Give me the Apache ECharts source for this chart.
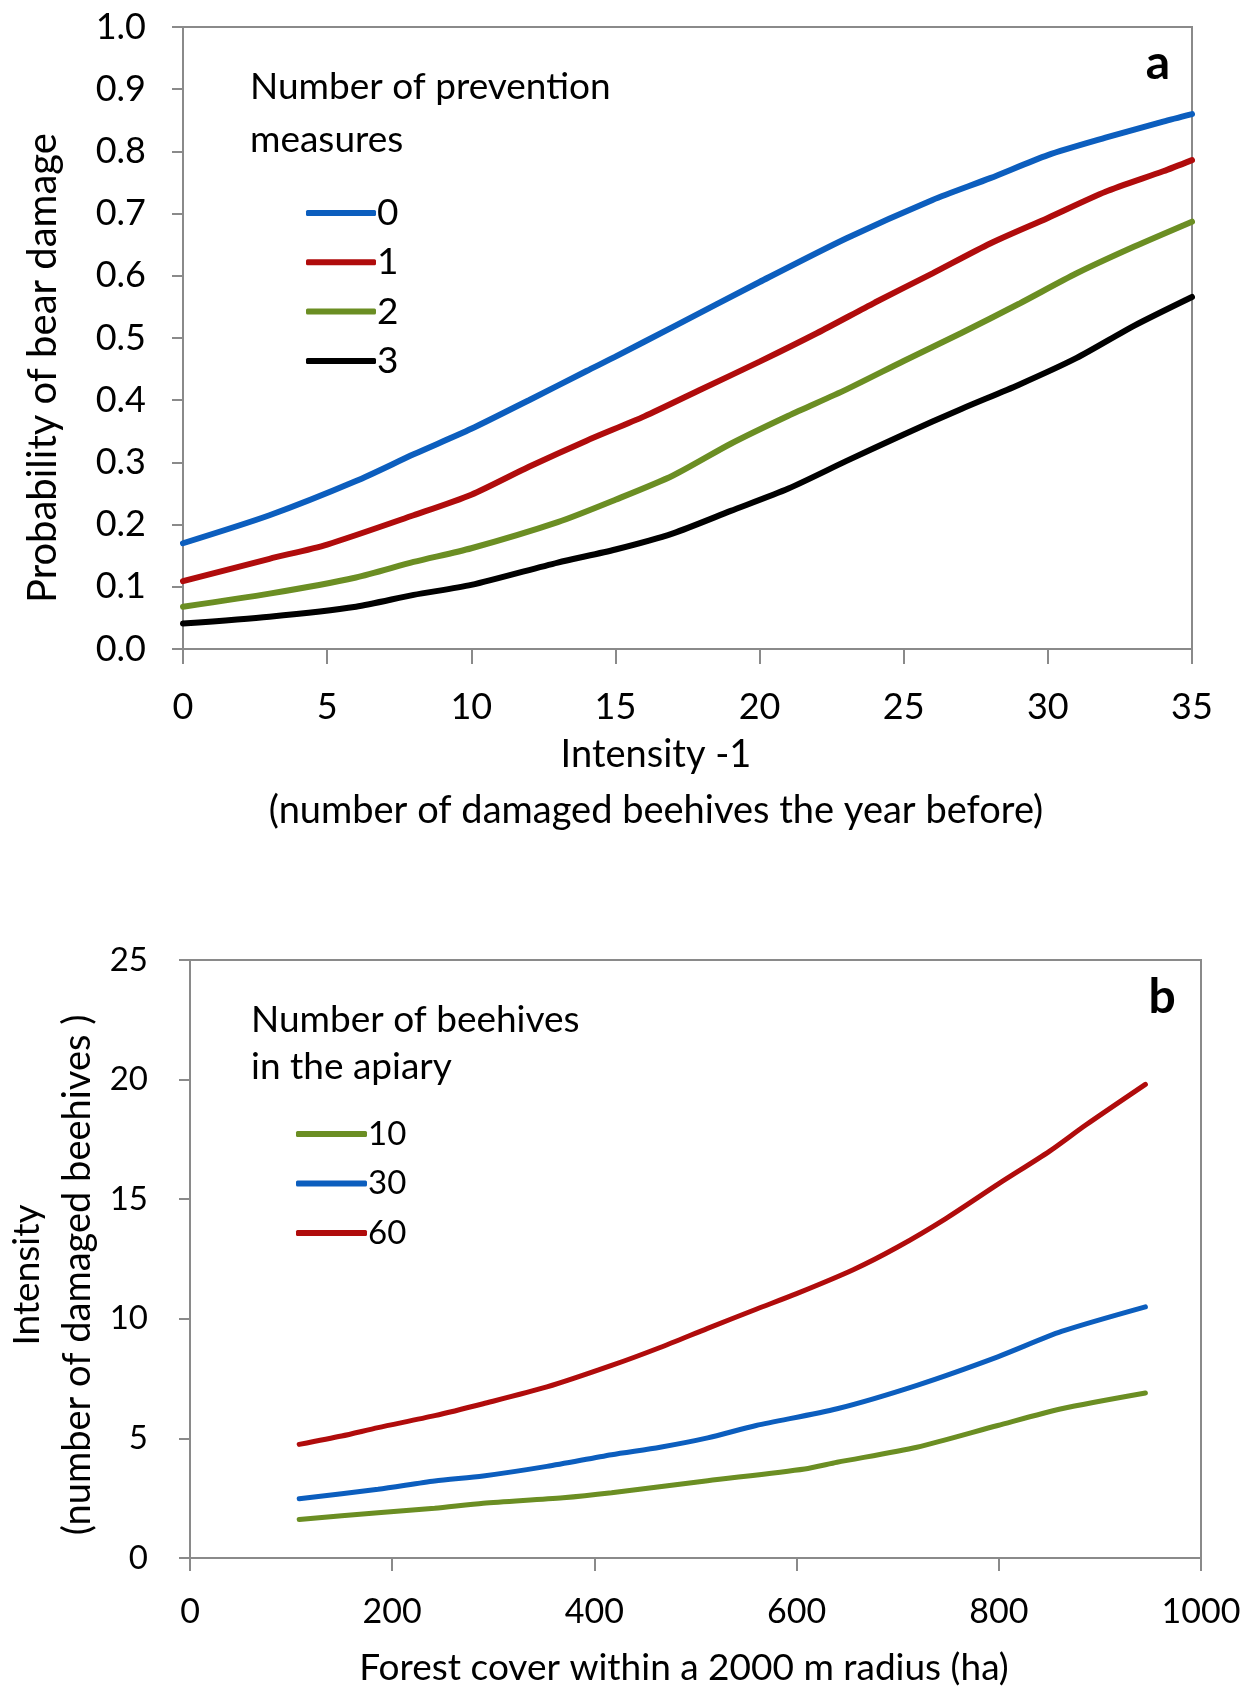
<!DOCTYPE html>
<html><head><meta charset="utf-8">
<script src="https://cdn.jsdelivr.net/npm/echarts@6/dist/echarts.min.js"></script>
<style>html,body{margin:0;padding:0;background:#fff}#c{width:1259px;height:1688px}</style>
</head><body><div id="c"></div>
<script>
// ---- Panel a data: probability of bear damage vs intensity-1 ----
const aXTicks = [0, 5, 10, 15, 20, 25, 30, 35];
const aSeriesNames = ['0', '1', '2', '3'];
const aPrev0 = [[0,0.170],[3,0.215],[6,0.270],[8,0.313],[10,0.354],[12,0.400],[14,0.447],[15,0.470],[17,0.518],[20,0.590],[23,0.660],[26,0.722],[28,0.757],[30,0.794],[32,0.822],[34,0.848],[35,0.860]];
const aPrev1 = [[0,0.109],[3,0.145],[5,0.168],[8,0.215],[10,0.248],[12,0.293],[14,0.335],[16,0.374],[18,0.418],[20,0.462],[22,0.508],[24,0.557],[26,0.604],[28,0.652],[30,0.693],[32,0.735],[34,0.768],[35,0.786]];
const aPrev2 = [[0,0.068],[3,0.089],[6,0.115],[8,0.140],[10,0.162],[13,0.204],[15,0.240],[17,0.279],[19,0.330],[21,0.375],[23,0.417],[25,0.463],[27,0.508],[29,0.555],[31,0.604],[33,0.647],[35,0.687]];
const aPrev3 = [[0,0.041],[3,0.052],[6,0.068],[8,0.087],[10,0.103],[13,0.139],[15,0.160],[17,0.186],[19,0.222],[21,0.258],[23,0.302],[25,0.345],[27,0.386],[29,0.425],[31,0.468],[33,0.520],[35,0.566]];

// ---- Panel b data: intensity vs forest cover ----
const bXTicks = [0, 200, 400, 600, 800, 1000];
const bSeriesNames = ['10', '30', '60'];
const bHives10 = [[108,1.61],[186,1.89],[242,2.08],[290,2.29],[369,2.52],[417,2.73],[512,3.23],[608,3.72],[640,4.0],[719,4.63],[799,5.54],[862,6.24],[945,6.90]];
const bHives30 = [[108,2.48],[186,2.87],[242,3.22],[290,3.43],[353,3.83],[417,4.32],[465,4.63],[512,5.02],[560,5.54],[640,6.24],[719,7.22],[799,8.41],[862,9.47],[945,10.5]];
const bHives60 = [[108,4.75],[150,5.1],[186,5.45],[242,5.95],[290,6.45],[353,7.15],[417,8.05],[465,8.8],[512,9.6],[560,10.4],[600,11.05],[656,12.05],[700,13.0],[748,14.2],[800,15.65],[850,17.0],[886,18.1],[945,19.8]];

const FONT = 'Lato';
const GRAY = '#8a8a8a';
const BLUE = '#0C5EBE', RED = '#B00C0C', GREEN = '#6B8E23', BLACK = '#000000';

const chart = echarts.init(document.getElementById('c'), null, {renderer: 'canvas'});

function axisCommon(fs, margin) {
  return {
    axisLine: {show: true, onZero: false, lineStyle: {color: GRAY, width: 2}},
    axisTick: {show: true, length: 11, lineStyle: {color: GRAY, width: 2}},
    splitLine: {show: false},
    axisLabel: {color: '#000', fontFamily: FONT, fontSize: fs, margin: margin}
  };
}

function lineSeries(name, data, color, idx, w) {
  return {
    name: name, type: 'line', xAxisIndex: idx, yAxisIndex: idx,
    data: data, showSymbol: false, symbol: 'none', smooth: 0.25,
    lineStyle: {color: color, width: w, cap: 'round'}, itemStyle: {color: color},
    animation: false, z: 3
  };
}

const noComma = function (v) { return String(v); };

const option = {
  backgroundColor: '#fff',
  animation: false,
  grid: [
    {left: 183, top: 27, width: 1009, height: 622, show: true, borderColor: GRAY, borderWidth: 2, backgroundColor: 'transparent'},
    {left: 190, top: 960, width: 1011, height: 598, show: true, borderColor: GRAY, borderWidth: 2, backgroundColor: 'transparent'}
  ],
  xAxis: [
    Object.assign(axisCommon(36, 40), {type: 'value', gridIndex: 0, min: aXTicks[0], max: aXTicks[aXTicks.length-1], interval: 5,
      axisTick: {show: true, length: 15, lineStyle: {color: GRAY, width: 2}}}),
    Object.assign(axisCommon(34, 37), {type: 'value', gridIndex: 1, min: bXTicks[0], max: bXTicks[bXTicks.length-1], interval: 200,
      axisTick: {show: true, length: 13, lineStyle: {color: GRAY, width: 2}}})
  ],
  yAxis: [
    Object.assign(axisCommon(36, 37), {type: 'value', gridIndex: 0, min: 0, max: 1, interval: 0.1}),
    Object.assign(axisCommon(33, 42), {type: 'value', gridIndex: 1, min: 0, max: 25, interval: 5})
  ],
  legend: [
    {data: aSeriesNames, orient: 'vertical', left: 306, top: 193, itemWidth: 70, itemHeight: 6, itemGap: 9.3, icon: 'roundRect',
      textStyle: {fontFamily: FONT, fontSize: 37, color: '#000', lineHeight: 40, padding: [0,0,0,-4]}, selectedMode: false, padding: 0},
    {data: bSeriesNames, orient: 'vertical', left: 296, top: 1114, itemWidth: 71, itemHeight: 6, itemGap: 9.5, icon: 'roundRect',
      textStyle: {fontFamily: FONT, fontSize: 33, color: '#000', lineHeight: 40, padding: [0,0,0,-4]}, selectedMode: false, padding: 0}
  ],
  series: [
    lineSeries(aSeriesNames[0], aPrev0, BLUE, 0, 6),
    lineSeries(aSeriesNames[1], aPrev1, RED, 0, 6),
    lineSeries(aSeriesNames[2], aPrev2, GREEN, 0, 6),
    lineSeries(aSeriesNames[3], aPrev3, BLACK, 0, 6),
    lineSeries(bSeriesNames[0], bHives10, GREEN, 1, 5),
    lineSeries(bSeriesNames[1], bHives30, BLUE, 1, 5),
    lineSeries(bSeriesNames[2], bHives60, RED, 1, 5)
  ],
  graphic: [
    // Panel a texts
    {type: 'text', x: 250, y: 87, style: {text: 'Number of prevention', font: '37px Lato', fill: '#000', verticalAlign: 'middle'}},
    {type: 'text', x: 250, y: 140, style: {text: 'measures', font: '37px Lato', fill: '#000', verticalAlign: 'middle'}},
    {type: 'text', x: 1158, y: 64, style: {text: 'a', font: 'bold 48px Lato', fill: '#000', align: 'center', verticalAlign: 'middle'}},
    {type: 'text', x: 656, y: 755, style: {text: 'Intensity -1', font: '38px Lato', fill: '#000', align: 'center', verticalAlign: 'middle'}},
    {type: 'text', x: 656, y: 811, style: {text: '(number of damaged beehives the year before)', font: '38px Lato', fill: '#000', align: 'center', verticalAlign: 'middle'}},
    {type: 'text', x: 43, y: 368, rotation: Math.PI/2, style: {text: 'Probability of bear damage', font: '40px Lato', fill: '#000', align: 'center', verticalAlign: 'middle'}},
    // Panel b texts
    {type: 'text', x: 251, y: 1020, style: {text: 'Number of beehives', font: '37px Lato', fill: '#000', verticalAlign: 'middle'}},
    {type: 'text', x: 251, y: 1067, style: {text: 'in the apiary', font: '37px Lato', fill: '#000', verticalAlign: 'middle'}},
    {type: 'text', x: 1162, y: 998, style: {text: 'b', font: 'bold 48px Lato', fill: '#000', align: 'center', verticalAlign: 'middle'}},
    {type: 'text', x: 684, y: 1668, style: {text: 'Forest cover within a 2000 m radius (ha)', font: '37px Lato', fill: '#000', align: 'center', verticalAlign: 'middle'}},
    {type: 'text', x: 27, y: 1275, rotation: Math.PI/2, style: {text: 'Intensity', font: '37px Lato', fill: '#000', align: 'center', verticalAlign: 'middle'}},
    {type: 'text', x: 78, y: 1275, rotation: Math.PI/2, style: {text: '(number of damaged beehives )', font: '38px Lato', fill: '#000', align: 'center', verticalAlign: 'middle'}}
  ]
};
option.yAxis[0].axisLabel.formatter = function (v) { return v.toFixed(1); };
option.xAxis[1].axisLabel.formatter = noComma;
option.yAxis[1].axisLabel.formatter = noComma;
chart.setOption(option);
</script></body></html>
